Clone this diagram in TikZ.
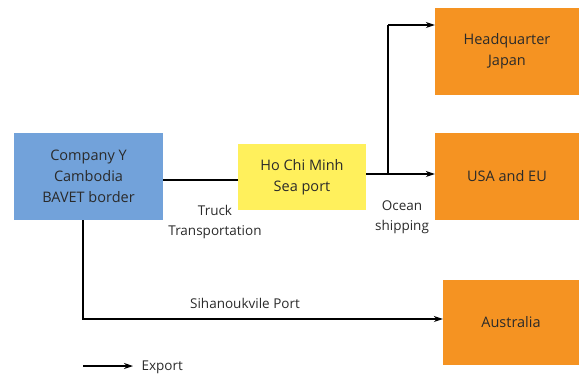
\documentclass[tikz,border=0pt]{standalone}
\usepackage{fontspec}
\setmainfont{Open Sans}
\usetikzlibrary{arrows.meta}
\definecolor{bluebox}{HTML}{72A2DA}
\definecolor{yellowbox}{HTML}{FFF05C}
\definecolor{orangebox}{HTML}{F59322}
\definecolor{txt}{HTML}{2A2A2A}
\begin{document}
\begin{tikzpicture}[x=1pt,y=-1pt,
  box/.style={draw=none,inner sep=0pt,align=center,font=\fontsize{14.5}{21}\selectfont,text=txt},
  lbl/.style={align=center,font=\fontsize{13.5}{20}\selectfont,text=txt},
  conn/.style={line width=1.6pt,black},
  arr/.style={line width=1.1pt,black,-{Stealth[length=9pt,width=6pt]}}]
\useasboundingbox (0,0) rectangle (579,376);
\node[box,fill=bluebox,minimum width=149pt,minimum height=87pt] (co) at (88.5,176.5) {Company Y\\Cambodia\\BAVET border};
\node[box,fill=yellowbox,minimum width=128pt,minimum height=66pt] (hcm) at (302,177) {Ho Chi Minh\\Sea port};
\node[box,fill=orangebox,minimum width=144pt,minimum height=87pt] (hq) at (507,51.5) {Headquarter\\Japan};
\node[box,fill=orangebox,minimum width=144pt,minimum height=87pt] (us) at (507,176.5) {USA and EU};
\node[box,fill=orangebox,minimum width=136pt,minimum height=85pt] (au) at (511,322.5) {Australia};
% connectors
\draw[conn] (co.east |- 0,180) -- (hcm.west |- 0,180);
\coordinate (j) at (388,174);
\coordinate (jt) at (388,25);
\coordinate (b) at (83,319);
\draw[conn] (hcm.east |- j) -- (j);
\draw[arr] (j) -- (us.west |- j);
\draw[conn] (j) -- (jt);
\draw[arr] (jt) -- (hq.west |- jt);
\draw[conn] (co.south -| b) -- (b) -- (400,319);
\draw[arr] (400,319) -- (au.west |- b);
% labels
\node[lbl] (t1) at (215,222) {Truck\\Transportation};
\node[lbl] (t2) at (402,217) {Ocean\\shipping};
\node[lbl] (t3) at (245,303) {Sihanoukvile Port};
% legend
\coordinate (l1) at (83,366);
\coordinate (l2) at (133,366);
\draw[arr] (l1) -- (l2);
\node[lbl,anchor=west] (ex) at (138,367) {Export};
\end{tikzpicture}
\end{document}
